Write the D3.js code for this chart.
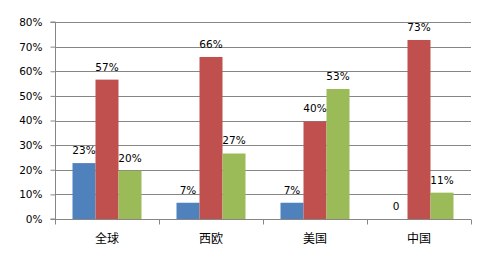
<!DOCTYPE html>
<html>
<head>
<meta charset="utf-8">
<script src="https://cdn.jsdelivr.net/npm/d3@7"></script>
<style>
  body { margin: 0; background: #fff; }
</style>
</head>
<body>
<svg id="chart"></svg>
<script>
const categories = ["全球", "西欧", "美国", "中国"];
const seriesA = [0.227, 0.066, 0.066, 0];
const seriesB = [0.566, 0.658, 0.396, 0.727];
const seriesC = [0.196, 0.266, 0.528, 0.107];
const yTicks = [0, 0.1, 0.2, 0.3, 0.4, 0.5, 0.6, 0.7, 0.8];
const colors = ["#4F81BD", "#C0504D", "#9BBB59"];

const width = 493, height = 260;
const plotLeft = 55, plotRight = 471, plotTop = 22, plotBottom = 219;

const svg = d3.select("#chart").attr("width", width).attr("height", height);

const x = d3.scaleBand().domain(categories).range([plotLeft, plotRight]).paddingInner(0).paddingOuter(0);
const y = d3.scaleLinear().domain([0, 0.8]).range([plotBottom, plotTop]);
const inner = d3.scaleBand().domain([0, 1, 2]).range([17.5, x.bandwidth() - 17.5]);

// gridlines
svg.append("g").selectAll("line")
   .data(yTicks.slice(1))
   .enter().append("line")
   .attr("x1", plotLeft).attr("x2", plotRight)
   .attr("y1", d => Math.round(y(d)) + 0.5).attr("y2", d => Math.round(y(d)) + 0.5)
   .attr("stroke", "#868686");

const series = [seriesA, seriesB, seriesC];
const groups = svg.append("g").selectAll("g")
   .data(categories)
   .enter().append("g")
   .attr("transform", d => `translate(${x(d)},0)`);

groups.selectAll("rect")
   .data((c, i) => series.map((s, k) => ({ k, v: s[i] })))
   .enter().append("rect")
   .attr("x", d => inner(d.k))
   .attr("width", inner.bandwidth())
   .attr("y", d => y(d.v))
   .attr("height", d => y(0) - y(d.v))
   .attr("fill", d => colors[d.k]);

groups.selectAll("text")
   .data((c, i) => series.map((s, k) => ({ k, v: s[i] })))
   .enter().append("text")
   .attr("x", d => inner(d.k) + inner.bandwidth() / 2)
   .attr("y", d => y(d.v) - 9)
   .attr("text-anchor", "middle")
   .style("font-family", "DejaVu Sans, Verdana, sans-serif")
   .style("font-size", "10.5px")
   .attr("fill", "#000")
   .text(d => d.v === 0 ? "0" : Math.round(d.v * 100) + "%");

// y axis
const yAxis = d3.axisLeft(y).tickValues(yTicks).tickSize(5).tickPadding(8).tickFormat(d3.format(".0%"));
const gy = svg.append("g").attr("transform", `translate(${plotLeft + 0.5},0)`).call(yAxis);
gy.select(".domain").attr("stroke", "#868686").attr("d", `M-5,${plotBottom}H0V${plotTop}H-5`);
gy.selectAll(".tick line").attr("stroke", "#868686");
gy.selectAll(".tick text")
  .style("font-family", "DejaVu Sans, Verdana, sans-serif")
  .style("font-size", "10.5px").attr("fill", "#000");

// x axis
const xAxis = d3.axisBottom(x).tickSize(0).tickPadding(15);
const gx = svg.append("g").attr("transform", `translate(0,${Math.round(plotBottom) + 0.5})`).call(xAxis);
gx.select(".domain").attr("stroke", "#868686").attr("d", `M${plotLeft},0H${plotRight}`);
gx.selectAll(".tick text")
  .style("font-family", "Noto Sans CJK SC, sans-serif")
  .style("font-size", "12px").attr("fill", "#000");
gx.append("g").selectAll("line")
  .data(d3.range(categories.length + 1))
  .enter().append("line")
  .attr("x1", i => Math.round(plotLeft + i * x.step()) + 0.5)
  .attr("x2", i => Math.round(plotLeft + i * x.step()) + 0.5)
  .attr("y1", 0).attr("y2", 5)
  .attr("stroke", "#868686");
</script>
</body>
</html>
